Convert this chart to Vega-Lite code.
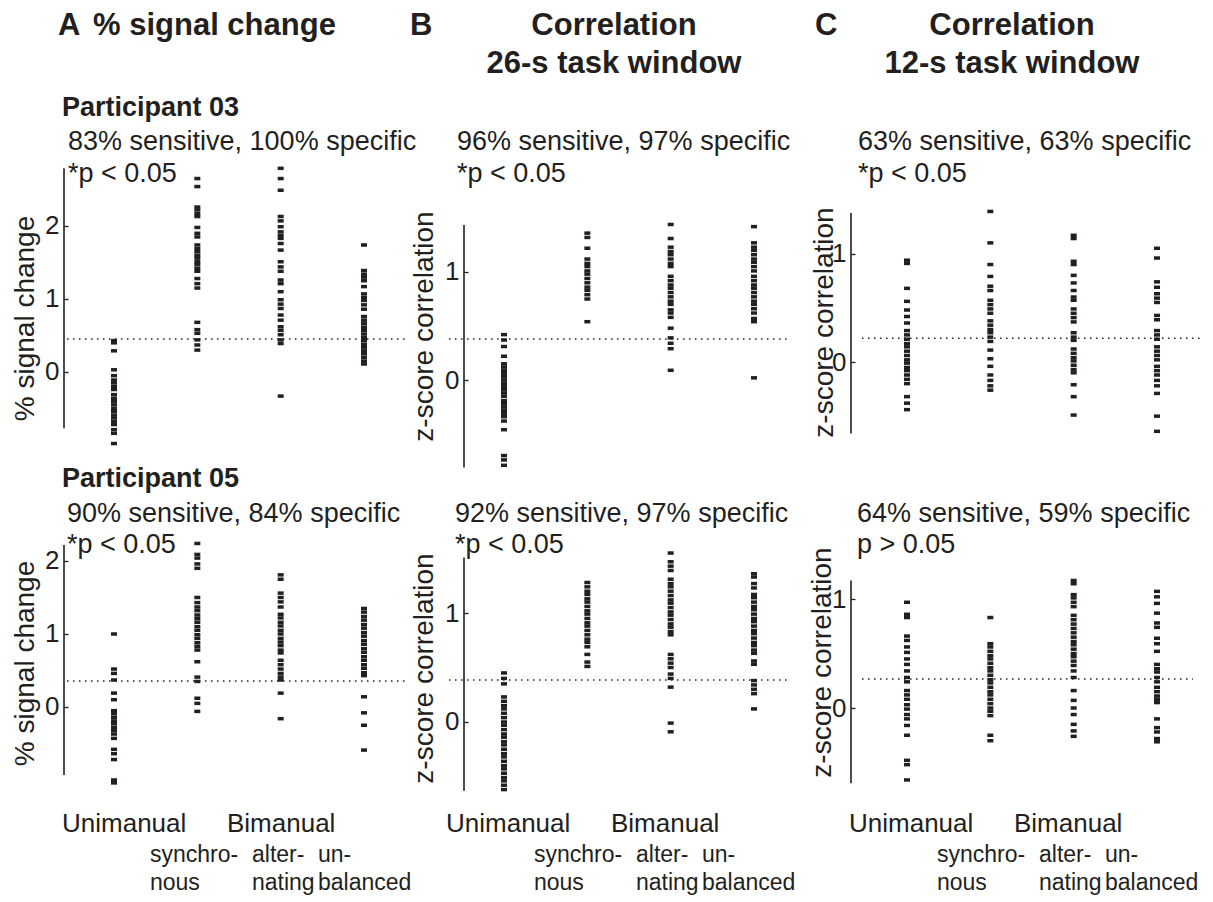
{
"$schema": "https://vega.github.io/schema/vega-lite/v6.json",
"padding": {"left": 11, "top": 10, "right": 0, "bottom": 0},
"background": "white",
"config": {
  "view": {"stroke": null},
  "font": "Liberation Sans",
  "axis": {"domain": false, "grid": false, "format": "d", "tickSize": -4, "tickWidth": 1.3, "tickColor": "#231f20", "labelFont": "Liberation Sans", "labelFontSize": 26, "labelColor": "#231f20", "labelPadding": 9, "titleFont": "Liberation Sans", "titleFontSize": 28, "titleFontWeight": "normal", "titleColor": "#231f20", "titleBaseline": "middle", "titleAlign": "center"},
  "text": {"font": "Liberation Sans", "color": "#231f20"}
},
"datasets": {
  "A03": [
    {"condition":1,"value":0.43},{"condition":1,"value":0.40},{"condition":1,"value":0.29},{"condition":1,"value":0.03},{"condition":1,"value":-0.05},{"condition":1,"value":-0.11},{"condition":1,"value":-0.15},{"condition":1,"value":-0.2},{"condition":1,"value":-0.24},{"condition":1,"value":-0.31},{"condition":1,"value":-0.36},{"condition":1,"value":-0.4},{"condition":1,"value":-0.45},{"condition":1,"value":-0.5},{"condition":1,"value":-0.54},{"condition":1,"value":-0.59},{"condition":1,"value":-0.63},{"condition":1,"value":-0.68},{"condition":1,"value":-0.72},{"condition":1,"value":-0.79},{"condition":1,"value":-0.84},{"condition":1,"value":-0.98},
    {"condition":2,"value":2.65},{"condition":2,"value":2.54},{"condition":2,"value":2.26},{"condition":2,"value":2.22},{"condition":2,"value":2.17},{"condition":2,"value":2.13},{"condition":2,"value":1.98},{"condition":2,"value":1.9},{"condition":2,"value":1.85},{"condition":2,"value":1.74},{"condition":2,"value":1.69},{"condition":2,"value":1.65},{"condition":2,"value":1.6},{"condition":2,"value":1.56},{"condition":2,"value":1.51},{"condition":2,"value":1.47},{"condition":2,"value":1.42},{"condition":2,"value":1.38},{"condition":2,"value":1.28},{"condition":2,"value":1.21},{"condition":2,"value":1.15},{"condition":2,"value":0.68},{"condition":2,"value":0.58},{"condition":2,"value":0.53},{"condition":2,"value":0.44},{"condition":2,"value":0.37},{"condition":2,"value":0.3},
    {"condition":3,"value":2.79},{"condition":3,"value":2.65},{"condition":3,"value":2.49},{"condition":3,"value":2.13},{"condition":3,"value":2.07},{"condition":3,"value":1.99},{"condition":3,"value":1.92},{"condition":3,"value":1.87},{"condition":3,"value":1.83},{"condition":3,"value":1.76},{"condition":3,"value":1.67},{"condition":3,"value":1.51},{"condition":3,"value":1.44},{"condition":3,"value":1.38},{"condition":3,"value":1.26},{"condition":3,"value":1.21},{"condition":3,"value":1.1},{"condition":3,"value":0.99},{"condition":3,"value":0.93},{"condition":3,"value":0.87},{"condition":3,"value":0.78},{"condition":3,"value":0.71},{"condition":3,"value":0.62},{"condition":3,"value":0.57},{"condition":3,"value":0.51},{"condition":3,"value":0.44},{"condition":3,"value":0.39},{"condition":3,"value":-0.33},
    {"condition":4,"value":1.74},{"condition":4,"value":1.39},{"condition":4,"value":1.34},{"condition":4,"value":1.3},{"condition":4,"value":1.25},{"condition":4,"value":1.17},{"condition":4,"value":1.07},{"condition":4,"value":1.02},{"condition":4,"value":0.98},{"condition":4,"value":0.92},{"condition":4,"value":0.86},{"condition":4,"value":0.76},{"condition":4,"value":0.71},{"condition":4,"value":0.66},{"condition":4,"value":0.61},{"condition":4,"value":0.57},{"condition":4,"value":0.52},{"condition":4,"value":0.47},{"condition":4,"value":0.43},{"condition":4,"value":0.38},{"condition":4,"value":0.34},{"condition":4,"value":0.29},{"condition":4,"value":0.25},{"condition":4,"value":0.2},{"condition":4,"value":0.15},{"condition":4,"value":0.11}
  ],
  "B03": [
    {"condition":1,"value":0.42},{"condition":1,"value":0.37},{"condition":1,"value":0.31},{"condition":1,"value":0.22},{"condition":1,"value":0.15},{"condition":1,"value":0.12},{"condition":1,"value":0.09},{"condition":1,"value":0.06},{"condition":1,"value":0.03},{"condition":1,"value":0.0},{"condition":1,"value":-0.03},{"condition":1,"value":-0.06},{"condition":1,"value":-0.09},{"condition":1,"value":-0.12},{"condition":1,"value":-0.15},{"condition":1,"value":-0.19},{"condition":1,"value":-0.22},{"condition":1,"value":-0.25},{"condition":1,"value":-0.28},{"condition":1,"value":-0.31},{"condition":1,"value":-0.34},{"condition":1,"value":-0.38},{"condition":1,"value":-0.46},{"condition":1,"value":-0.7},{"condition":1,"value":-0.74},{"condition":1,"value":-0.79},
    {"condition":2,"value":1.36},{"condition":2,"value":1.32},{"condition":2,"value":1.22},{"condition":2,"value":1.12},{"condition":2,"value":1.08},{"condition":2,"value":1.05},{"condition":2,"value":1.01},{"condition":2,"value":0.98},{"condition":2,"value":0.94},{"condition":2,"value":0.9},{"condition":2,"value":0.86},{"condition":2,"value":0.83},{"condition":2,"value":0.79},{"condition":2,"value":0.75},{"condition":2,"value":0.54},
    {"condition":3,"value":1.44},{"condition":3,"value":1.31},{"condition":3,"value":1.23},{"condition":3,"value":1.19},{"condition":3,"value":1.16},{"condition":3,"value":1.12},{"condition":3,"value":1.08},{"condition":3,"value":1.05},{"condition":3,"value":0.96},{"condition":3,"value":0.92},{"condition":3,"value":0.88},{"condition":3,"value":0.85},{"condition":3,"value":0.81},{"condition":3,"value":0.77},{"condition":3,"value":0.73},{"condition":3,"value":0.7},{"condition":3,"value":0.65},{"condition":3,"value":0.62},{"condition":3,"value":0.58},{"condition":3,"value":0.48},{"condition":3,"value":0.39},{"condition":3,"value":0.34},{"condition":3,"value":0.29},{"condition":3,"value":0.09},
    {"condition":4,"value":1.42},{"condition":4,"value":1.27},{"condition":4,"value":1.23},{"condition":4,"value":1.2},{"condition":4,"value":1.16},{"condition":4,"value":1.12},{"condition":4,"value":1.09},{"condition":4,"value":1.05},{"condition":4,"value":1.01},{"condition":4,"value":0.96},{"condition":4,"value":0.92},{"condition":4,"value":0.88},{"condition":4,"value":0.85},{"condition":4,"value":0.81},{"condition":4,"value":0.77},{"condition":4,"value":0.73},{"condition":4,"value":0.7},{"condition":4,"value":0.66},{"condition":4,"value":0.62},{"condition":4,"value":0.57},{"condition":4,"value":0.54},{"condition":4,"value":0.02}
  ],
  "C03": [
    {"condition":1,"value":0.94},{"condition":1,"value":0.91},{"condition":1,"value":0.68},{"condition":1,"value":0.56},{"condition":1,"value":0.48},{"condition":1,"value":0.42},{"condition":1,"value":0.36},{"condition":1,"value":0.29},{"condition":1,"value":0.25},{"condition":1,"value":0.21},{"condition":1,"value":0.17},{"condition":1,"value":0.14},{"condition":1,"value":0.1},{"condition":1,"value":0.06},{"condition":1,"value":0.02},{"condition":1,"value":-0.01},{"condition":1,"value":-0.05},{"condition":1,"value":-0.08},{"condition":1,"value":-0.12},{"condition":1,"value":-0.16},{"condition":1,"value":-0.2},{"condition":1,"value":-0.32},{"condition":1,"value":-0.38},{"condition":1,"value":-0.44},
    {"condition":2,"value":1.39},{"condition":2,"value":1.1},{"condition":2,"value":0.9},{"condition":2,"value":0.79},{"condition":2,"value":0.7},{"condition":2,"value":0.66},{"condition":2,"value":0.57},{"condition":2,"value":0.53},{"condition":2,"value":0.49},{"condition":2,"value":0.45},{"condition":2,"value":0.38},{"condition":2,"value":0.34},{"condition":2,"value":0.3},{"condition":2,"value":0.27},{"condition":2,"value":0.23},{"condition":2,"value":0.19},{"condition":2,"value":0.11},{"condition":2,"value":0.03},{"condition":2,"value":-0.04},{"condition":2,"value":-0.12},{"condition":2,"value":-0.17},{"condition":2,"value":-0.22},{"condition":2,"value":-0.26},
    {"condition":3,"value":1.17},{"condition":3,"value":1.14},{"condition":3,"value":0.93},{"condition":3,"value":0.9},{"condition":3,"value":0.8},{"condition":3,"value":0.73},{"condition":3,"value":0.66},{"condition":3,"value":0.6},{"condition":3,"value":0.57},{"condition":3,"value":0.49},{"condition":3,"value":0.45},{"condition":3,"value":0.41},{"condition":3,"value":0.37},{"condition":3,"value":0.27},{"condition":3,"value":0.23},{"condition":3,"value":0.2},{"condition":3,"value":0.12},{"condition":3,"value":0.08},{"condition":3,"value":0.04},{"condition":3,"value":0.01},{"condition":3,"value":-0.03},{"condition":3,"value":-0.07},{"condition":3,"value":-0.1},{"condition":3,"value":-0.21},{"condition":3,"value":-0.32},{"condition":3,"value":-0.49},
    {"condition":4,"value":1.05},{"condition":4,"value":0.96},{"condition":4,"value":0.74},{"condition":4,"value":0.69},{"condition":4,"value":0.63},{"condition":4,"value":0.59},{"condition":4,"value":0.55},{"condition":4,"value":0.43},{"condition":4,"value":0.39},{"condition":4,"value":0.29},{"condition":4,"value":0.25},{"condition":4,"value":0.21},{"condition":4,"value":0.14},{"condition":4,"value":0.1},{"condition":4,"value":0.06},{"condition":4,"value":0.02},{"condition":4,"value":-0.04},{"condition":4,"value":-0.08},{"condition":4,"value":-0.12},{"condition":4,"value":-0.17},{"condition":4,"value":-0.22},{"condition":4,"value":-0.29},{"condition":4,"value":-0.5},{"condition":4,"value":-0.64}
  ],
  "A05": [
    {"condition":1,"value":1.0},{"condition":1,"value":0.52},{"condition":1,"value":0.46},{"condition":1,"value":0.37},{"condition":1,"value":0.19},{"condition":1,"value":0.1},{"condition":1,"value":-0.05},{"condition":1,"value":-0.09},{"condition":1,"value":-0.14},{"condition":1,"value":-0.19},{"condition":1,"value":-0.23},{"condition":1,"value":-0.28},{"condition":1,"value":-0.32},{"condition":1,"value":-0.37},{"condition":1,"value":-0.43},{"condition":1,"value":-0.58},{"condition":1,"value":-0.64},{"condition":1,"value":-0.72},{"condition":1,"value":-1.0},{"condition":1,"value":-1.04},
    {"condition":2,"value":2.24},{"condition":2,"value":2.09},{"condition":2,"value":2.04},{"condition":2,"value":1.96},{"condition":2,"value":1.9},{"condition":2,"value":1.5},{"condition":2,"value":1.43},{"condition":2,"value":1.37},{"condition":2,"value":1.32},{"condition":2,"value":1.26},{"condition":2,"value":1.21},{"condition":2,"value":1.16},{"condition":2,"value":1.1},{"condition":2,"value":1.05},{"condition":2,"value":0.99},{"condition":2,"value":0.94},{"condition":2,"value":0.88},{"condition":2,"value":0.83},{"condition":2,"value":0.78},{"condition":2,"value":0.62},{"condition":2,"value":0.41},{"condition":2,"value":0.35},{"condition":2,"value":0.12},{"condition":2,"value":0.05},{"condition":2,"value":-0.06},
    {"condition":3,"value":1.81},{"condition":3,"value":1.75},{"condition":3,"value":1.56},{"condition":3,"value":1.5},{"condition":3,"value":1.44},{"condition":3,"value":1.37},{"condition":3,"value":1.27},{"condition":3,"value":1.22},{"condition":3,"value":1.16},{"condition":3,"value":1.11},{"condition":3,"value":1.05},{"condition":3,"value":1.0},{"condition":3,"value":0.94},{"condition":3,"value":0.89},{"condition":3,"value":0.84},{"condition":3,"value":0.78},{"condition":3,"value":0.74},{"condition":3,"value":0.64},{"condition":3,"value":0.58},{"condition":3,"value":0.52},{"condition":3,"value":0.46},{"condition":3,"value":0.41},{"condition":3,"value":0.37},{"condition":3,"value":0.19},{"condition":3,"value":-0.16},
    {"condition":4,"value":1.35},{"condition":4,"value":1.3},{"condition":4,"value":1.24},{"condition":4,"value":1.19},{"condition":4,"value":1.13},{"condition":4,"value":1.08},{"condition":4,"value":1.02},{"condition":4,"value":0.97},{"condition":4,"value":0.91},{"condition":4,"value":0.86},{"condition":4,"value":0.8},{"condition":4,"value":0.75},{"condition":4,"value":0.69},{"condition":4,"value":0.64},{"condition":4,"value":0.58},{"condition":4,"value":0.53},{"condition":4,"value":0.47},{"condition":4,"value":0.43},{"condition":4,"value":0.14},{"condition":4,"value":-0.08},{"condition":4,"value":-0.25},{"condition":4,"value":-0.59}
  ],
  "B05": [
    {"condition":1,"value":0.45},{"condition":1,"value":0.4},{"condition":1,"value":0.35},{"condition":1,"value":0.23},{"condition":1,"value":0.19},{"condition":1,"value":0.15},{"condition":1,"value":0.12},{"condition":1,"value":0.08},{"condition":1,"value":0.04},{"condition":1,"value":0.0},{"condition":1,"value":-0.03},{"condition":1,"value":-0.07},{"condition":1,"value":-0.11},{"condition":1,"value":-0.14},{"condition":1,"value":-0.18},{"condition":1,"value":-0.21},{"condition":1,"value":-0.25},{"condition":1,"value":-0.29},{"condition":1,"value":-0.32},{"condition":1,"value":-0.36},{"condition":1,"value":-0.4},{"condition":1,"value":-0.43},{"condition":1,"value":-0.47},{"condition":1,"value":-0.51},{"condition":1,"value":-0.54},{"condition":1,"value":-0.58},{"condition":1,"value":-0.62},
    {"condition":2,"value":1.28},{"condition":2,"value":1.24},{"condition":2,"value":1.2},{"condition":2,"value":1.17},{"condition":2,"value":1.13},{"condition":2,"value":1.1},{"condition":2,"value":1.06},{"condition":2,"value":1.02},{"condition":2,"value":0.99},{"condition":2,"value":0.95},{"condition":2,"value":0.91},{"condition":2,"value":0.88},{"condition":2,"value":0.84},{"condition":2,"value":0.8},{"condition":2,"value":0.76},{"condition":2,"value":0.73},{"condition":2,"value":0.69},{"condition":2,"value":0.62},{"condition":2,"value":0.55},{"condition":2,"value":0.51},
    {"condition":3,"value":1.55},{"condition":3,"value":1.47},{"condition":3,"value":1.43},{"condition":3,"value":1.39},{"condition":3,"value":1.31},{"condition":3,"value":1.27},{"condition":3,"value":1.24},{"condition":3,"value":1.2},{"condition":3,"value":1.16},{"condition":3,"value":1.12},{"condition":3,"value":1.09},{"condition":3,"value":1.05},{"condition":3,"value":1.01},{"condition":3,"value":0.98},{"condition":3,"value":0.94},{"condition":3,"value":0.9},{"condition":3,"value":0.87},{"condition":3,"value":0.83},{"condition":3,"value":0.8},{"condition":3,"value":0.62},{"condition":3,"value":0.58},{"condition":3,"value":0.54},{"condition":3,"value":0.5},{"condition":3,"value":0.44},{"condition":3,"value":0.4},{"condition":3,"value":0.32},{"condition":3,"value":-0.01},{"condition":3,"value":-0.09},
    {"condition":4,"value":1.36},{"condition":4,"value":1.33},{"condition":4,"value":1.27},{"condition":4,"value":1.23},{"condition":4,"value":1.17},{"condition":4,"value":1.14},{"condition":4,"value":1.1},{"condition":4,"value":1.06},{"condition":4,"value":1.03},{"condition":4,"value":0.99},{"condition":4,"value":0.95},{"condition":4,"value":0.92},{"condition":4,"value":0.88},{"condition":4,"value":0.84},{"condition":4,"value":0.81},{"condition":4,"value":0.77},{"condition":4,"value":0.73},{"condition":4,"value":0.7},{"condition":4,"value":0.66},{"condition":4,"value":0.63},{"condition":4,"value":0.56},{"condition":4,"value":0.53},{"condition":4,"value":0.38},{"condition":4,"value":0.34},{"condition":4,"value":0.3},{"condition":4,"value":0.26},{"condition":4,"value":0.12}
  ],
  "C05": [
    {"condition":1,"value":0.97},{"condition":1,"value":0.86},{"condition":1,"value":0.83},{"condition":1,"value":0.66},{"condition":1,"value":0.62},{"condition":1,"value":0.56},{"condition":1,"value":0.51},{"condition":1,"value":0.45},{"condition":1,"value":0.4},{"condition":1,"value":0.34},{"condition":1,"value":0.28},{"condition":1,"value":0.24},{"condition":1,"value":0.16},{"condition":1,"value":0.12},{"condition":1,"value":0.08},{"condition":1,"value":0.03},{"condition":1,"value":-0.01},{"condition":1,"value":-0.06},{"condition":1,"value":-0.1},{"condition":1,"value":-0.16},{"condition":1,"value":-0.25},{"condition":1,"value":-0.48},{"condition":1,"value":-0.52},{"condition":1,"value":-0.66},
    {"condition":2,"value":0.83},{"condition":2,"value":0.59},{"condition":2,"value":0.56},{"condition":2,"value":0.52},{"condition":2,"value":0.48},{"condition":2,"value":0.45},{"condition":2,"value":0.41},{"condition":2,"value":0.37},{"condition":2,"value":0.34},{"condition":2,"value":0.3},{"condition":2,"value":0.26},{"condition":2,"value":0.23},{"condition":2,"value":0.19},{"condition":2,"value":0.15},{"condition":2,"value":0.12},{"condition":2,"value":0.08},{"condition":2,"value":0.04},{"condition":2,"value":0.0},{"condition":2,"value":-0.03},{"condition":2,"value":-0.07},{"condition":2,"value":-0.25},{"condition":2,"value":-0.3},
    {"condition":3,"value":1.17},{"condition":3,"value":1.14},{"condition":3,"value":1.04},{"condition":3,"value":1.01},{"condition":3,"value":0.97},{"condition":3,"value":0.93},{"condition":3,"value":0.85},{"condition":3,"value":0.81},{"condition":3,"value":0.77},{"condition":3,"value":0.73},{"condition":3,"value":0.69},{"condition":3,"value":0.65},{"condition":3,"value":0.61},{"condition":3,"value":0.58},{"condition":3,"value":0.54},{"condition":3,"value":0.5},{"condition":3,"value":0.47},{"condition":3,"value":0.43},{"condition":3,"value":0.39},{"condition":3,"value":0.34},{"condition":3,"value":0.28},{"condition":3,"value":0.16},{"condition":3,"value":0.07},{"condition":3,"value":0.0},{"condition":3,"value":-0.06},{"condition":3,"value":-0.15},{"condition":3,"value":-0.21},{"condition":3,"value":-0.26},
    {"condition":4,"value":1.07},{"condition":4,"value":1.02},{"condition":4,"value":0.96},{"condition":4,"value":0.87},{"condition":4,"value":0.78},{"condition":4,"value":0.74},{"condition":4,"value":0.64},{"condition":4,"value":0.59},{"condition":4,"value":0.52},{"condition":4,"value":0.4},{"condition":4,"value":0.36},{"condition":4,"value":0.33},{"condition":4,"value":0.28},{"condition":4,"value":0.24},{"condition":4,"value":0.19},{"condition":4,"value":0.15},{"condition":4,"value":0.11},{"condition":4,"value":0.08},{"condition":4,"value":0.05},{"condition":4,"value":-0.1},{"condition":4,"value":-0.18},{"condition":4,"value":-0.22},{"condition":4,"value":-0.28},{"condition":4,"value":-0.31}
  ]
},
"columns": 3,
"spacing": {"row": 30, "column": 40},
"bounds": "flush",
"align": "each",
"resolve": {"scale": {"x": "independent", "y": "independent"}, "axis": {"x": "independent", "y": "independent"}},
"concat": [
  {
    "width": 360, "height": 320,
    "layer": [
      {"data": {"name": "A03"}, "mark": {"type": "tick", "orient": "horizontal", "size": 6, "thickness": 3.5, "color": "#231f20", "opacity": 1},
       "encoding": {
         "x": {"field": "condition", "type": "quantitative", "scale": {"domain": [0.4, 4.72], "nice": false, "zero": false, "padding": 0}, "axis": null},
         "y": {"field": "value", "type": "quantitative", "scale": {"domain": [-1.3425, 3.0411], "nice": false, "zero": false, "padding": 0}, "axis": {"values": [0, 1, 2], "title": "% signal change", "titleX": -39, "titleY": 168}}}},
      {"data": {"values": [{"threshold": 0.452}]}, "mark": {"type": "rule", "strokeDash": [1.5, 4.5], "strokeWidth": 1.5, "color": "#231f20"},
       "encoding": {"x": {"datum": 0.436}, "x2": {"datum": 4.49}, "y": {"field": "threshold", "type": "quantitative"}}},
      {"data": {"values": [{"low": -0.77, "high": 2.79}]}, "mark": {"type": "rule", "strokeWidth": 1.6, "color": "#231f20"},
       "encoding": {"x": {"datum": 0.4}, "y": {"field": "low", "type": "quantitative"}, "y2": {"field": "high"}}},
      {"data": {"values": [{}]}, "mark": {"type": "text", "align": "left", "baseline": "alphabetic", "fontSize": 31, "fontWeight": "bold"},
       "encoding": {"x": {"datum": 0.328}, "y": {"datum": 4.616}, "text": {"value": "A"}}},
      {"data": {"values": [{}]}, "mark": {"type": "text", "align": "left", "baseline": "alphabetic", "fontSize": 31, "fontWeight": "bold"},
       "encoding": {"x": {"datum": 0.748}, "y": {"datum": 4.616}, "text": {"value": "% signal change"}}},
      {"data": {"values": [{}]}, "mark": {"type": "text", "align": "left", "baseline": "alphabetic", "fontSize": 27, "fontWeight": "bold"},
       "encoding": {"x": {"datum": 0.376}, "y": {"datum": 3.507}, "text": {"value": "Participant 03"}}},
      {"data": {"values": [{}]}, "mark": {"type": "text", "align": "left", "baseline": "alphabetic", "fontSize": 27, "lineHeight": 32},
       "encoding": {"x": {"datum": 0.448}, "y": {"datum": 3.041}, "text": {"value": ["83% sensitive, 100% specific", "*p < 0.05"]}}}
    ]
  },
  {
    "width": 347, "height": 320,
    "layer": [
      {"data": {"name": "B03"}, "mark": {"type": "tick", "orient": "horizontal", "size": 6, "thickness": 3.5, "color": "#231f20", "opacity": 1},
       "encoding": {
         "x": {"field": "condition", "type": "quantitative", "scale": {"domain": [0.52, 4.684], "nice": false, "zero": false, "padding": 0}, "axis": null},
         "y": {"field": "value", "type": "quantitative", "scale": {"domain": [-0.8333, 2.1296], "nice": false, "zero": false, "padding": 0}, "axis": {"values": [0, 1], "title": "z-score correlation", "titleX": -40, "titleY": 176}}}},
      {"data": {"values": [{"threshold": 0.38}]}, "mark": {"type": "rule", "strokeDash": [1.5, 4.5], "strokeWidth": 1.5, "color": "#231f20"},
       "encoding": {"x": {"datum": 0.34}, "x2": {"datum": 4.44}, "y": {"field": "threshold", "type": "quantitative"}}},
      {"data": {"values": [{"low": -0.81, "high": 1.435}]}, "mark": {"type": "rule", "strokeWidth": 1.6, "color": "#231f20"},
       "encoding": {"x": {"datum": 0.52}, "y": {"field": "low", "type": "quantitative"}, "y2": {"field": "high"}}},
      {"data": {"values": [{}]}, "mark": {"type": "text", "align": "left", "baseline": "alphabetic", "fontSize": 31, "fontWeight": "bold"},
       "encoding": {"x": {"datum": -0.128}, "y": {"datum": 3.194}, "text": {"value": "B"}}},
      {"data": {"values": [{}]}, "mark": {"type": "text", "align": "center", "baseline": "alphabetic", "fontSize": 31, "fontWeight": "bold", "lineHeight": 38},
       "encoding": {"x": {"datum": 2.32}, "y": {"datum": 3.194}, "text": {"value": ["Correlation", "26-s task window"]}}},
      {"data": {"values": [{}]}, "mark": {"type": "text", "align": "left", "baseline": "alphabetic", "fontSize": 27, "lineHeight": 32},
       "encoding": {"x": {"datum": 0.436}, "y": {"datum": 2.13}, "text": {"value": ["96% sensitive, 97% specific", "*p < 0.05"]}}}
    ]
  },
  {
    "width": 350, "height": 320,
    "layer": [
      {"data": {"name": "C03"}, "mark": {"type": "tick", "orient": "horizontal", "size": 6, "thickness": 3.5, "color": "#231f20", "opacity": 1},
       "encoding": {
         "x": {"field": "condition", "type": "quantitative", "scale": {"domain": [0.328, 4.528], "nice": false, "zero": false, "padding": 0}, "axis": null},
         "y": {"field": "value", "type": "quantitative", "scale": {"domain": [-0.9972, 1.9575], "nice": false, "zero": false, "padding": 0}, "axis": {"values": [0, 1], "title": "z-score correlation", "titleX": -27, "titleY": 172}}}},
      {"data": {"values": [{"threshold": 0.22}]}, "mark": {"type": "rule", "strokeDash": [1.5, 4.5], "strokeWidth": 1.5, "color": "#231f20"},
       "encoding": {"x": {"datum": 0.46}, "x2": {"datum": 4.52}, "y": {"field": "threshold", "type": "quantitative"}}},
      {"data": {"values": [{"low": -0.66, "high": 1.376}]}, "mark": {"type": "rule", "strokeWidth": 1.6, "color": "#231f20"},
       "encoding": {"x": {"datum": 0.328}, "y": {"field": "low", "type": "quantitative"}, "y2": {"field": "high"}}},
      {"data": {"values": [{}]}, "mark": {"type": "text", "align": "left", "baseline": "alphabetic", "fontSize": 31, "fontWeight": "bold"},
       "encoding": {"x": {"datum": -0.104}, "y": {"datum": 3.019}, "text": {"value": "C"}}},
      {"data": {"values": [{}]}, "mark": {"type": "text", "align": "center", "baseline": "alphabetic", "fontSize": 31, "fontWeight": "bold", "lineHeight": 38},
       "encoding": {"x": {"datum": 2.26}, "y": {"datum": 3.019}, "text": {"value": ["Correlation", "12-s task window"]}}},
      {"data": {"values": [{}]}, "mark": {"type": "text", "align": "left", "baseline": "alphabetic", "fontSize": 27, "lineHeight": 32},
       "encoding": {"x": {"datum": 0.412}, "y": {"datum": 1.958}, "text": {"value": ["63% sensitive, 63% specific", "*p < 0.05"]}}}
    ]
  },
  {
    "width": 360, "height": 300,
    "layer": [
      {"data": {"name": "A05"}, "mark": {"type": "tick", "orient": "horizontal", "size": 6, "thickness": 3.5, "color": "#231f20", "opacity": 1},
       "encoding": {
         "x": {"field": "condition", "type": "quantitative", "scale": {"domain": [0.4, 4.72], "nice": false, "zero": false, "padding": 0}, "axis": null},
         "y": {"field": "value", "type": "quantitative", "scale": {"domain": [-1.274, 2.8356], "nice": false, "zero": false, "padding": 0}, "axis": {"values": [0, 1, 2], "title": "% signal change", "titleX": -39, "titleY": 163}}}},
      {"data": {"values": [{"threshold": 0.356}]}, "mark": {"type": "rule", "strokeDash": [1.5, 4.5], "strokeWidth": 1.5, "color": "#231f20"},
       "encoding": {"x": {"datum": 0.436}, "x2": {"datum": 4.49}, "y": {"field": "threshold", "type": "quantitative"}}},
      {"data": {"values": [{"low": -0.93, "high": 2.22}]}, "mark": {"type": "rule", "strokeWidth": 1.6, "color": "#231f20"},
       "encoding": {"x": {"datum": 0.4}, "y": {"field": "low", "type": "quantitative"}, "y2": {"field": "high"}}},
      {"data": {"values": [{}]}, "mark": {"type": "text", "align": "left", "baseline": "alphabetic", "fontSize": 27, "fontWeight": "bold"},
       "encoding": {"x": {"datum": 0.376}, "y": {"datum": 3.014}, "text": {"value": "Participant 05"}}},
      {"data": {"values": [{}]}, "mark": {"type": "text", "align": "left", "baseline": "alphabetic", "fontSize": 27, "lineHeight": 31},
       "encoding": {"x": {"datum": 0.436}, "y": {"datum": 2.534}, "text": {"value": ["90% sensitive, 84% specific", "*p < 0.05"]}}},
      {"data": {"values": [{}]}, "mark": {"type": "text", "align": "left", "baseline": "alphabetic", "fontSize": 26},
       "encoding": {"x": {"datum": 0.376}, "y": {"datum": -1.712}, "text": {"value": "Unimanual"}}},
      {"data": {"values": [{}]}, "mark": {"type": "text", "align": "left", "baseline": "alphabetic", "fontSize": 26},
       "encoding": {"x": {"datum": 2.356}, "y": {"datum": -1.712}, "text": {"value": "Bimanual"}}},
      {"data": {"values": [{}]}, "mark": {"type": "text", "align": "left", "baseline": "alphabetic", "fontSize": 23, "lineHeight": 28},
       "encoding": {"x": {"datum": 1.432}, "y": {"datum": -2.123}, "text": {"value": ["synchro-", "nous"]}}},
      {"data": {"values": [{}]}, "mark": {"type": "text", "align": "left", "baseline": "alphabetic", "fontSize": 23, "lineHeight": 28},
       "encoding": {"x": {"datum": 2.656}, "y": {"datum": -2.123}, "text": {"value": ["alter-", "nating"]}}},
      {"data": {"values": [{}]}, "mark": {"type": "text", "align": "left", "baseline": "alphabetic", "fontSize": 23, "lineHeight": 28},
       "encoding": {"x": {"datum": 3.448}, "y": {"datum": -2.123}, "text": {"value": ["un-", "balanced"]}}}
    ]
  },
  {
    "width": 347, "height": 300,
    "layer": [
      {"data": {"name": "B05"}, "mark": {"type": "tick", "orient": "horizontal", "size": 6, "thickness": 3.5, "color": "#231f20", "opacity": 1},
       "encoding": {
         "x": {"field": "condition", "type": "quantitative", "scale": {"domain": [0.52, 4.684], "nice": false, "zero": false, "padding": 0}, "axis": null},
         "y": {"field": "value", "type": "quantitative", "scale": {"domain": [-0.7156, 2.0367], "nice": false, "zero": false, "padding": 0}, "axis": {"values": [0, 1], "title": "z-score correlation", "titleX": -40, "titleY": 168}}}},
      {"data": {"values": [{"threshold": 0.385}]}, "mark": {"type": "rule", "strokeDash": [1.5, 4.5], "strokeWidth": 1.5, "color": "#231f20"},
       "encoding": {"x": {"datum": 0.34}, "x2": {"datum": 4.44}, "y": {"field": "threshold", "type": "quantitative"}}},
      {"data": {"values": [{"low": -0.63, "high": 1.51}]}, "mark": {"type": "rule", "strokeWidth": 1.6, "color": "#231f20"},
       "encoding": {"x": {"datum": 0.52}, "y": {"field": "low", "type": "quantitative"}, "y2": {"field": "high"}}},
      {"data": {"values": [{}]}, "mark": {"type": "text", "align": "left", "baseline": "alphabetic", "fontSize": 27, "lineHeight": 31},
       "encoding": {"x": {"datum": 0.412}, "y": {"datum": 1.835}, "text": {"value": ["92% sensitive, 97% specific", "*p < 0.05"]}}},
      {"data": {"values": [{}]}, "mark": {"type": "text", "align": "left", "baseline": "alphabetic", "fontSize": 26},
       "encoding": {"x": {"datum": 0.304}, "y": {"datum": -1.009}, "text": {"value": "Unimanual"}}},
      {"data": {"values": [{}]}, "mark": {"type": "text", "align": "left", "baseline": "alphabetic", "fontSize": 26},
       "encoding": {"x": {"datum": 2.284}, "y": {"datum": -1.009}, "text": {"value": "Bimanual"}}},
      {"data": {"values": [{}]}, "mark": {"type": "text", "align": "left", "baseline": "alphabetic", "fontSize": 23, "lineHeight": 28},
       "encoding": {"x": {"datum": 1.36}, "y": {"datum": -1.284}, "text": {"value": ["synchro-", "nous"]}}},
      {"data": {"values": [{}]}, "mark": {"type": "text", "align": "left", "baseline": "alphabetic", "fontSize": 23, "lineHeight": 28},
       "encoding": {"x": {"datum": 2.584}, "y": {"datum": -1.284}, "text": {"value": ["alter-", "nating"]}}},
      {"data": {"values": [{}]}, "mark": {"type": "text", "align": "left", "baseline": "alphabetic", "fontSize": 23, "lineHeight": 28},
       "encoding": {"x": {"datum": 3.376}, "y": {"datum": -1.284}, "text": {"value": ["un-", "balanced"]}}}
    ]
  },
  {
    "width": 350, "height": 300,
    "layer": [
      {"data": {"name": "C05"}, "mark": {"type": "tick", "orient": "horizontal", "size": 6, "thickness": 3.5, "color": "#231f20", "opacity": 1},
       "encoding": {
         "x": {"field": "condition", "type": "quantitative", "scale": {"domain": [0.328, 4.528], "nice": false, "zero": false, "padding": 0}, "axis": null},
         "y": {"field": "value", "type": "quantitative", "scale": {"domain": [-0.844, 1.9083], "nice": false, "zero": false, "padding": 0}, "axis": {"values": [0, 1], "title": "z-score correlation", "titleX": -29, "titleY": 162}}}},
      {"data": {"values": [{"threshold": 0.266}]}, "mark": {"type": "rule", "strokeDash": [1.5, 4.5], "strokeWidth": 1.5, "color": "#231f20"},
       "encoding": {"x": {"datum": 0.46}, "x2": {"datum": 4.43}, "y": {"field": "threshold", "type": "quantitative"}}},
      {"data": {"values": [{"low": -0.69, "high": 1.17}]}, "mark": {"type": "rule", "strokeWidth": 1.6, "color": "#231f20"},
       "encoding": {"x": {"datum": 0.328}, "y": {"field": "low", "type": "quantitative"}, "y2": {"field": "high"}}},
      {"data": {"values": [{}]}, "mark": {"type": "text", "align": "left", "baseline": "alphabetic", "fontSize": 27, "lineHeight": 31},
       "encoding": {"x": {"datum": 0.4}, "y": {"datum": 1.706}, "text": {"value": ["64% sensitive, 59% specific", "p > 0.05"]}}},
      {"data": {"values": [{}]}, "mark": {"type": "text", "align": "left", "baseline": "alphabetic", "fontSize": 26},
       "encoding": {"x": {"datum": 0.304}, "y": {"datum": -1.138}, "text": {"value": "Unimanual"}}},
      {"data": {"values": [{}]}, "mark": {"type": "text", "align": "left", "baseline": "alphabetic", "fontSize": 26},
       "encoding": {"x": {"datum": 2.284}, "y": {"datum": -1.138}, "text": {"value": "Bimanual"}}},
      {"data": {"values": [{}]}, "mark": {"type": "text", "align": "left", "baseline": "alphabetic", "fontSize": 23, "lineHeight": 28},
       "encoding": {"x": {"datum": 1.36}, "y": {"datum": -1.413}, "text": {"value": ["synchro-", "nous"]}}},
      {"data": {"values": [{}]}, "mark": {"type": "text", "align": "left", "baseline": "alphabetic", "fontSize": 23, "lineHeight": 28},
       "encoding": {"x": {"datum": 2.584}, "y": {"datum": -1.413}, "text": {"value": ["alter-", "nating"]}}},
      {"data": {"values": [{}]}, "mark": {"type": "text", "align": "left", "baseline": "alphabetic", "fontSize": 23, "lineHeight": 28},
       "encoding": {"x": {"datum": 3.376}, "y": {"datum": -1.413}, "text": {"value": ["un-", "balanced"]}}}
    ]
  }
]
}
